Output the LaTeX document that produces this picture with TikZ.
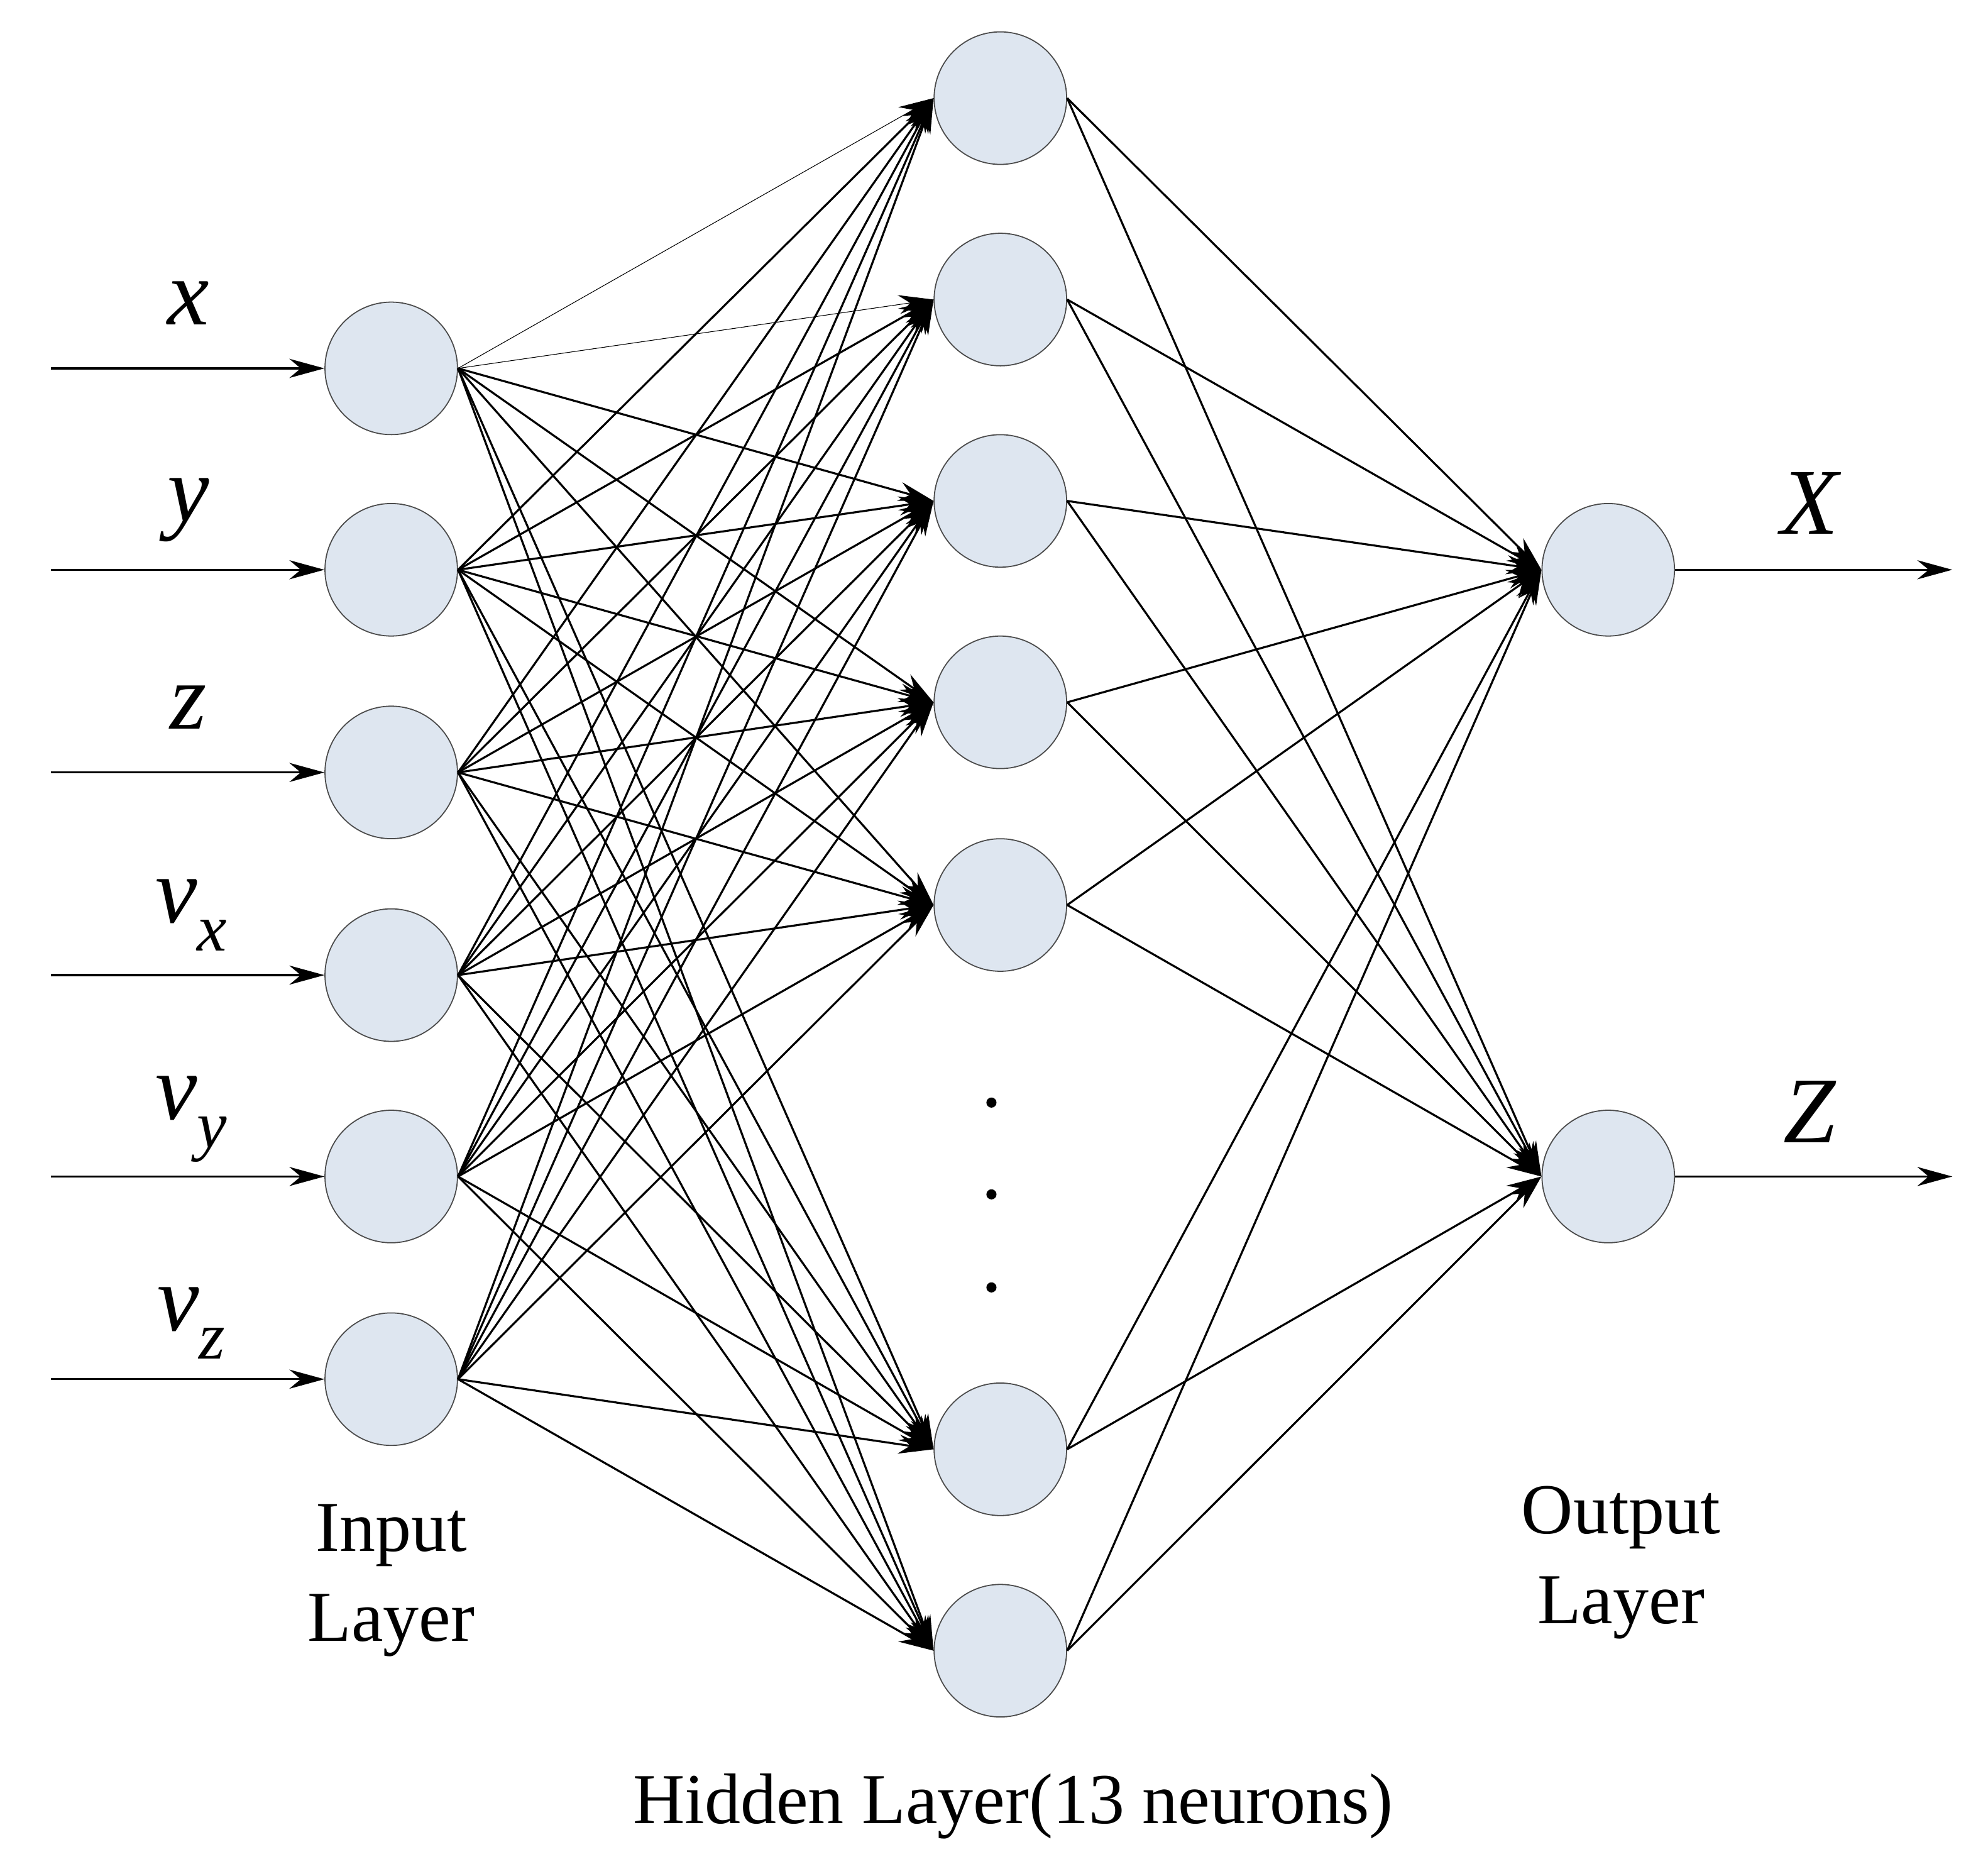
\documentclass[tikz,border=0pt]{standalone}
\usepackage{fontspec}
\setmainfont{Liberation Serif}
\usetikzlibrary{arrows.meta}
\definecolor{nfill}{RGB}{222,230,240}
\newcommand{\vsub}[1]{\textit{v}\raisebox{-0.3em}{\fontsize{30}{34}\selectfont\textit{#1}}}
\begin{document}
\begin{tikzpicture}[x=0.02cm,y=-0.02cm,
  neuron/.style={circle,draw=black!70,fill=nfill,minimum size=2.08cm,inner sep=0pt,line width=0.5pt},
  conn/.style={line width=0.9pt,-{Stealth[length=0.55cm,width=0.3cm]}},
  thinconn/.style={conn,line width=0.3pt},
  lab/.style={font=\fontsize{42}{48}\selectfont\itshape},
  txt/.style={font=\fontsize{32}{40}\selectfont,align=center}]
\useasboundingbox (0,0) rectangle (1560,1462);
\foreach \i/\y in {1/289,2/447,3/606,4/765,5/923,6/1082}{
  \node[neuron] (i\i) at (307,\y) {};
  \coordinate (s\i) at (40,\y);
  \draw[conn] (s\i) -- (i\i);
}
\foreach \j/\y in {1/77,2/235,3/393,4/551,5/710,6/1137,7/1295}{
  \node[neuron] (h\j) at (785,\y) {};
}
\node[neuron] (o1) at (1262,447) {};
\node[neuron] (o2) at (1262,923) {};
\coordinate (e1) at (1532,447);
\coordinate (e2) at (1532,923);
\draw[conn] (o1) -- (e1);
\draw[conn] (o2) -- (e2);
\draw[thinconn] (i1.east) -- (h1.west);
\draw[thinconn] (i1.east) -- (h2.west);
\foreach \j in {3,...,7}{\draw[conn] (i1.east) -- (h\j.west);}
\foreach \i in {2,...,6}{\foreach \j in {1,...,7}{\draw[conn] (i\i.east) -- (h\j.west);}}
\foreach \j in {1,...,7}{\foreach \k in {1,2}{\draw[conn] (h\j.east) -- (o\k.west);}}
\foreach \y [count=\n] in {865,937,1010}{\node[circle,fill,inner sep=1.6pt] (d\n) at (778,\y) {};}
\node[lab] (lx) at (148,238) {x};
\node[lab] (ly) at (148,400) {y};
\node[lab] (lz) at (148,555) {z};
\node[lab] (lvx) at (150,718) {\vsub{x}};
\node[lab] (lvy) at (150,878) {\vsub{y}};
\node[lab] (lvz) at (150,1038) {\vsub{z}};
\node[lab] (lX) at (1420,395) {X};
\node[lab] (lZ) at (1420,872) {Z};
\node[txt] (tin) at (307,1240) {Input\\Layer};
\node[txt] (tout) at (1272,1226) {Output\\Layer};
\node[txt] (thid) at (795,1417) {Hidden Layer(13 neurons)};
\end{tikzpicture}
\end{document}
